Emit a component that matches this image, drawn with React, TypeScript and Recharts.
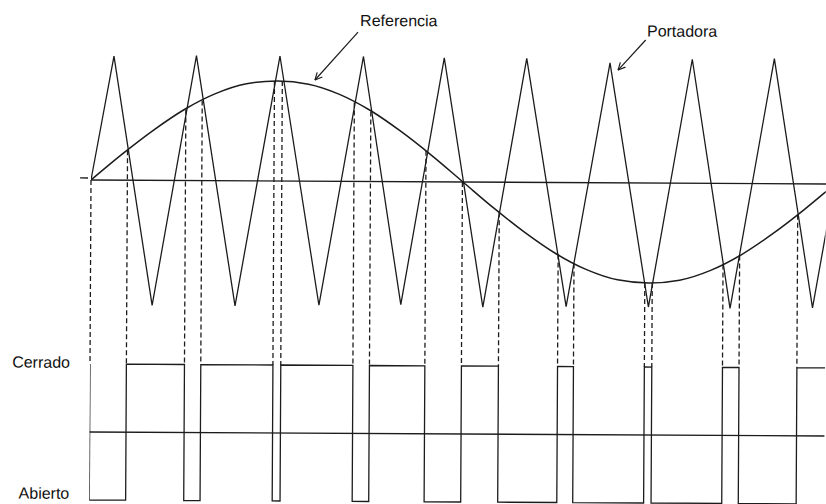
import React from 'react'
import { ComposedChart, Line, XAxis, YAxis, ReferenceLine, ReferenceDot } from 'recharts'

// angulos en grados de la senal de referencia (0..360 = un periodo)
const refAngles = [0, 15, 30, 45, 60, 75, 90, 105, 120, 135, 150, 165, 180, 195, 210, 225, 240, 255, 270, 285, 300, 315, 330, 345, 360, 375]
const refValues = [0, 0.26, 0.5, 0.71, 0.87, 0.97, 1, 0.97, 0.87, 0.71, 0.5, 0.26, 0, -0.26, -0.5, -0.71, -0.87, -0.97, -1, -0.97, -0.87, -0.71, -0.5, -0.26, 0, 0.26]

// vertices de la portadora triangular
const carrierAngles = [0, 10.8, 29.9, 50.7, 70.0, 91.1, 110.6, 131.5, 150.2, 170.6, 189.9, 210.5, 230.2, 250.8, 270.0, 290.6, 309.5, 330.3, 349.4, 370.2]
const carrierValues = [0, 1.24, -1.25, 1.25, -1.25, 1.25, -1.24, 1.25, -1.23, 1.24, -1.25, 1.24, -1.24, 1.2, -1.24, 1.24, -1.25, 1.25, -1.24, 1.24]

// puntos de conmutacion (cruces referencia / portadora)
const switchAngles = [0, 17.6, 45.7, 53.6, 88.5, 92.3, 127.2, 135.2, 162, 179.7, 197.6, 226.2, 233.9, 268.2, 271.8, 306, 314, 342]
const switchRef = [0, 0.3, 0.71, 0.8, 1, 1, 0.79, 0.7, 0.31, 0, -0.3, -0.72, -0.81, -1, -1, -0.81, -0.72, -0.31]
const pulseLevels = [-1, 1, -1, 1, -1, 1, -1, 1, -1, 1, -1, 1, -1, 1, -1, 1, -1, 1]

const pulseTicks = [1, -1]
const pulseLabels = ['Cerrado', 'Abierto']

const notes = [
    { text: 'Referencia', t: 129.8, v: 1.555, fromT: 128.8, fromV: 1.494, toT: 108.1, toV: 1.012 },
    { text: 'Portadora', t: 268.6, v: 1.465, fromT: 268.0, fromV: 1.43, toT: 254.7, toV: 1.128 },
]

const refData = refAngles.map((t, i) => ({ t, v: refValues[i] }))
const carrierData = carrierAngles.map((t, i) => ({ t, v: carrierValues[i] }))
const pulseData = [
    { t: 0, v: 1 },
    ...switchAngles.map((t, i) => ({ t, v: pulseLevels[i] })),
    { t: 360, v: 1 },
]

const INK = '#1c1c1c'
const FONT = '"Liberation Sans", Arial, sans-serif'
const DASH_END = -1.84 // nivel "Cerrado" expresado en la escala de arriba

const Arrow = (props: any) => {
    const { x1, y1, x2, y2 } = props
    const a = Math.atan2(y2 - y1, x2 - x1)
    const len = 8
    const w = 0.45
    return (
        <g stroke={INK} strokeWidth={1.2} fill="none">
            <line x1={x1} y1={y1} x2={x2} y2={y2} />
            <line x1={x2} y1={y2} x2={x2 - len * Math.cos(a - w)} y2={y2 - len * Math.sin(a - w)} />
            <line x1={x2} y1={y2} x2={x2 - len * Math.cos(a + w)} y2={y2 - len * Math.sin(a + w)} />
        </g>
    )
}

const PulseTick = (props: any) => {
    const { x, y, payload } = props
    const idx = pulseTicks.indexOf(payload.value)
    return (
        <text x={x} y={y} dy={4} textAnchor="end" fontSize={16} fontFamily={FONT} fill="#111">
            {pulseLabels[idx]}
        </text>
    )
}

const App: React.FC = () => {
    return (
        <div style={{ position: 'absolute', left: 0, top: 0, width: 826, height: 504, background: '#fff', overflow: 'hidden' }}>
            <div style={{ transform: 'rotate(0.31deg)', transformOrigin: '91px 180px' }}>
                <ComposedChart width={826} height={504} margin={{ top: 0, right: 0, bottom: 0, left: 0 }}>
                    <XAxis dataKey="t" type="number" domain={[0, 355.6]} allowDataOverflow hide />
                    <YAxis yAxisId="pulse" type="number" domain={[-1.059, 6.353]} allowDataOverflow width={91}
                        ticks={pulseTicks} tick={<PulseTick />} tickSize={0} tickMargin={20} tickLine={false} axisLine={false} />
                    <YAxis yAxisId="ref" type="number" domain={[-3.24, 1.8]} allowDataOverflow hide />

                    <ReferenceLine yAxisId="ref" y={0} stroke={INK} strokeWidth={1.4} />
                    <ReferenceLine yAxisId="ref" ifOverflow="visible" segment={[{ x: -5.3, y: 0.02 }, { x: -1.45, y: 0.02 }]} stroke={INK} strokeWidth={1.3} />
                    <ReferenceLine yAxisId="pulse" y={0} stroke={INK} strokeWidth={1.4} />

                    {switchAngles.map((t, i) => (
                        <ReferenceLine key={'d' + i} yAxisId="ref" segment={[{ x: t, y: switchRef[i] }, { x: t, y: DASH_END }]}
                            stroke={INK} strokeWidth={1.3} strokeDasharray="5 3" />
                    ))}

                    <Line yAxisId="ref" data={refData} dataKey="v" type="monotone" stroke={INK} strokeWidth={1.5} dot={false} isAnimationActive={false} />
                    <Line yAxisId="ref" data={carrierData} dataKey="v" type="linear" stroke={INK} strokeWidth={1.3} dot={false} isAnimationActive={false} />
                    <Line yAxisId="pulse" data={pulseData} dataKey="v" type="stepAfter" stroke={INK} strokeWidth={1.3} dot={false} isAnimationActive={false} />

                    {notes.map((n) => (
                        <ReferenceLine key={'a' + n.text} yAxisId="ref" segment={[{ x: n.fromT, y: n.fromV }, { x: n.toT, y: n.toV }]} shape={Arrow} />
                    ))}
                    {notes.map((n) => (
                        <ReferenceDot key={'n' + n.text} yAxisId="ref" x={n.t} y={n.v} r={0}
                            shape={(p: any) => (
                                <text x={p.cx} y={p.cy} fontSize={16} fontFamily={FONT} fill="#111">{n.text}</text>
                            )} />
                    ))}
                </ComposedChart>
            </div>
        </div>
    )
}

export default App
